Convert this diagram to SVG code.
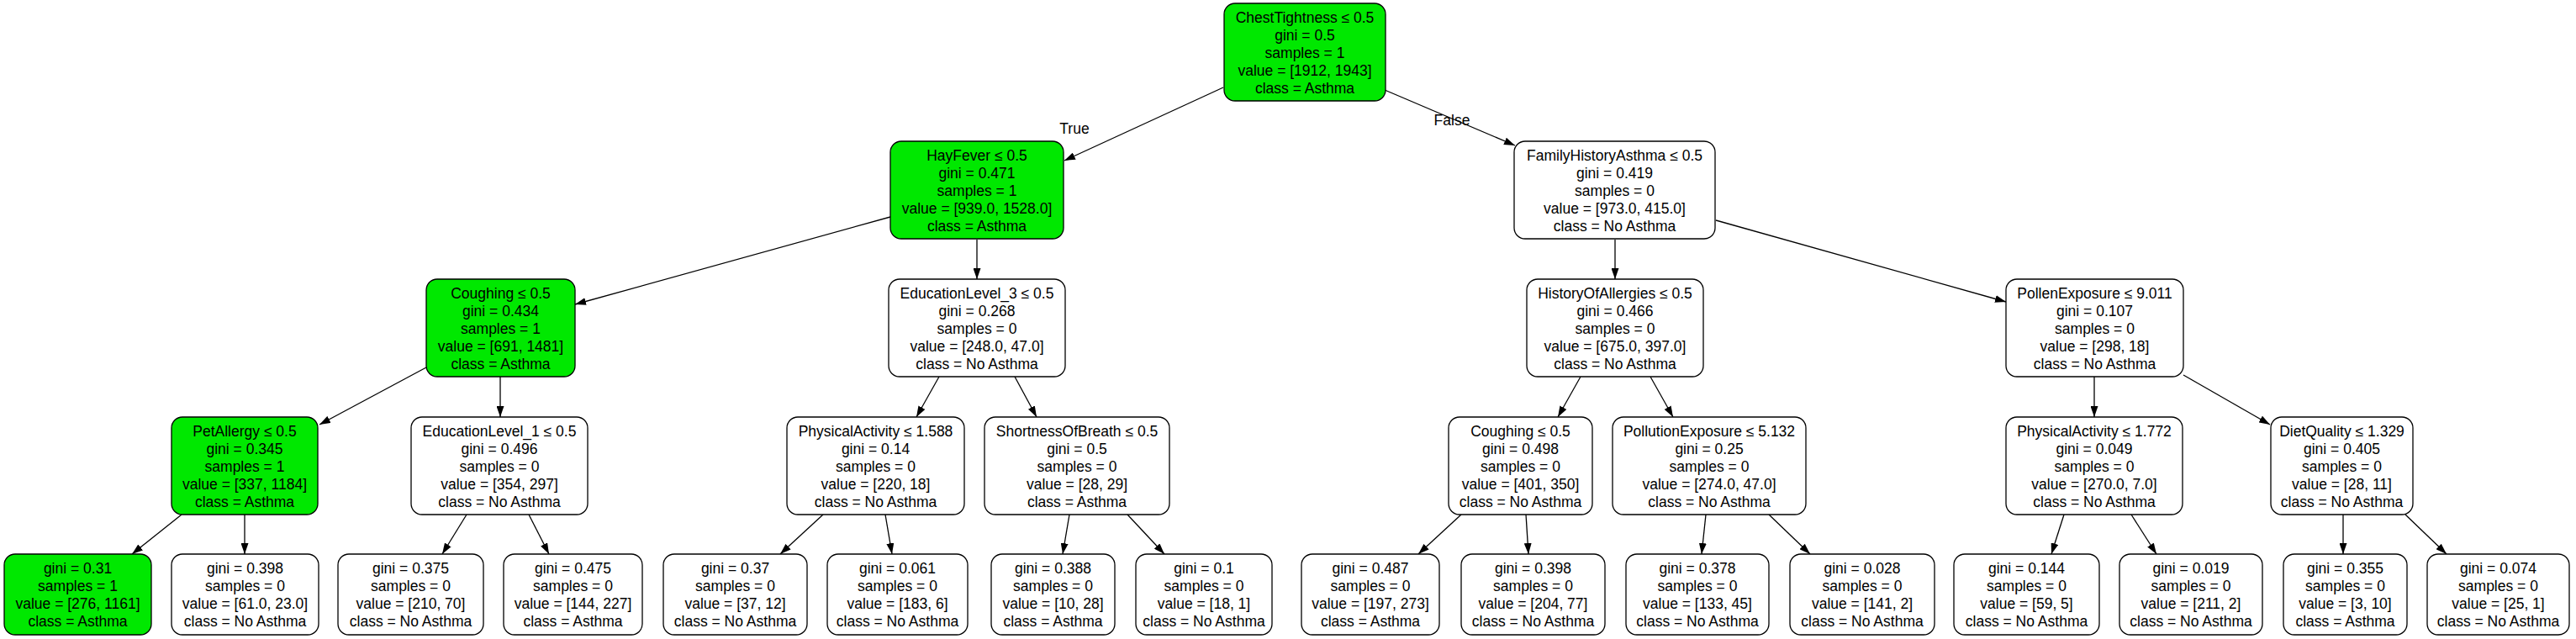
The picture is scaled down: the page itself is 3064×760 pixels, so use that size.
<svg xmlns="http://www.w3.org/2000/svg" width="3064" height="760" viewBox="0 0 3064 760">
<style>
.b{stroke:#000;stroke-width:1.3;}
.g{fill:#00e800;}
.w{fill:#fff;}
text{font-family:"Liberation Sans",Arial,sans-serif;font-size:17.5px;fill:#000;text-anchor:middle;}
.e{stroke:#000;stroke-width:1.3;fill:none;marker-end:url(#ah);}
</style>
<defs>
<marker id="ah" markerUnits="userSpaceOnUse" markerWidth="13" markerHeight="9" refX="13" refY="4.5" orient="auto">
<path d="M0,0 L13,4.5 L0,9 z" fill="#000"/>
</marker>
</defs>
<rect width="3064" height="760" fill="#fff"/>
<g id="connectors">
<line class="e" x1="1455" y1="104" x2="1266" y2="191"/>
<line class="e" x1="1647" y1="107" x2="1802" y2="173"/>
<line class="e" x1="1059" y1="258" x2="684" y2="362"/>
<line class="e" x1="1162" y1="285" x2="1162" y2="332"/>
<line class="e" x1="1921" y1="285" x2="1921" y2="332"/>
<line class="e" x1="2041" y1="262" x2="2386" y2="359"/>
<line class="e" x1="507" y1="437" x2="380" y2="505"/>
<line class="e" x1="595" y1="448" x2="595" y2="496"/>
<line class="e" x1="1117" y1="448" x2="1090" y2="496"/>
<line class="e" x1="1207" y1="448" x2="1233" y2="496"/>
<line class="e" x1="1880" y1="448" x2="1853" y2="496"/>
<line class="e" x1="1963" y1="448" x2="1990" y2="496"/>
<line class="e" x1="2491" y1="448" x2="2491" y2="496"/>
<line class="e" x1="2597" y1="446" x2="2700" y2="505"/>
<line class="e" x1="216" y1="612" x2="157" y2="659"/>
<line class="e" x1="291" y1="612" x2="291" y2="659"/>
<line class="e" x1="555" y1="612" x2="526" y2="659"/>
<line class="e" x1="629" y1="612" x2="653" y2="659"/>
<line class="e" x1="979" y1="612" x2="928" y2="659"/>
<line class="e" x1="1053" y1="612" x2="1061" y2="659"/>
<line class="e" x1="1272" y1="612" x2="1264" y2="659"/>
<line class="e" x1="1341" y1="612" x2="1385" y2="659"/>
<line class="e" x1="1738" y1="612" x2="1687" y2="659"/>
<line class="e" x1="1815" y1="612" x2="1818" y2="659"/>
<line class="e" x1="2029" y1="612" x2="2024" y2="659"/>
<line class="e" x1="2104" y1="612" x2="2153" y2="659"/>
<line class="e" x1="2455" y1="612" x2="2440" y2="659"/>
<line class="e" x1="2535" y1="612" x2="2565" y2="659"/>
<line class="e" x1="2787" y1="612" x2="2787" y2="659"/>
<line class="e" x1="2861" y1="612" x2="2910" y2="659"/>
<text x="1278" y="159">True</text>
<text x="1727" y="149">False</text>
</g>
<g id="n0"><rect class="b g" x="1456" y="4" width="192" height="116" rx="13"/>
<text x="1552" y="27">ChestTightness ≤ 0.5<tspan x="1552" dy="21">gini = 0.5</tspan><tspan x="1552" dy="21">samples = 1</tspan><tspan x="1552" dy="21">value = [1912, 1943]</tspan><tspan x="1552" dy="21">class = Asthma</tspan></text></g>
<g id="n1"><rect class="b g" x="1059" y="168" width="206" height="116" rx="13"/>
<text x="1162" y="191">HayFever ≤ 0.5<tspan x="1162" dy="21">gini = 0.471</tspan><tspan x="1162" dy="21">samples = 1</tspan><tspan x="1162" dy="21">value = [939.0, 1528.0]</tspan><tspan x="1162" dy="21">class = Asthma</tspan></text></g>
<g id="n2"><rect class="b w" x="1801" y="168" width="239" height="116" rx="13"/>
<text x="1920.5" y="191">FamilyHistoryAsthma ≤ 0.5<tspan x="1920.5" dy="21">gini = 0.419</tspan><tspan x="1920.5" dy="21">samples = 0</tspan><tspan x="1920.5" dy="21">value = [973.0, 415.0]</tspan><tspan x="1920.5" dy="21">class = No Asthma</tspan></text></g>
<g id="n3"><rect class="b g" x="507" y="332" width="177" height="116" rx="13"/>
<text x="595.5" y="355">Coughing ≤ 0.5<tspan x="595.5" dy="21">gini = 0.434</tspan><tspan x="595.5" dy="21">samples = 1</tspan><tspan x="595.5" dy="21">value = [691, 1481]</tspan><tspan x="595.5" dy="21">class = Asthma</tspan></text></g>
<g id="n4"><rect class="b w" x="1057" y="332" width="210" height="116" rx="13"/>
<text x="1162" y="355">EducationLevel_3 ≤ 0.5<tspan x="1162" dy="21">gini = 0.268</tspan><tspan x="1162" dy="21">samples = 0</tspan><tspan x="1162" dy="21">value = [248.0, 47.0]</tspan><tspan x="1162" dy="21">class = No Asthma</tspan></text></g>
<g id="n5"><rect class="b w" x="1816" y="332" width="210" height="116" rx="13"/>
<text x="1921" y="355">HistoryOfAllergies ≤ 0.5<tspan x="1921" dy="21">gini = 0.466</tspan><tspan x="1921" dy="21">samples = 0</tspan><tspan x="1921" dy="21">value = [675.0, 397.0]</tspan><tspan x="1921" dy="21">class = No Asthma</tspan></text></g>
<g id="n6"><rect class="b w" x="2386" y="332" width="211" height="116" rx="13"/>
<text x="2491.5" y="355">PollenExposure ≤ 9.011<tspan x="2491.5" dy="21">gini = 0.107</tspan><tspan x="2491.5" dy="21">samples = 0</tspan><tspan x="2491.5" dy="21">value = [298, 18]</tspan><tspan x="2491.5" dy="21">class = No Asthma</tspan></text></g>
<g id="n7"><rect class="b g" x="204" y="496" width="174" height="116" rx="13"/>
<text x="291" y="519">PetAllergy ≤ 0.5<tspan x="291" dy="21">gini = 0.345</tspan><tspan x="291" dy="21">samples = 1</tspan><tspan x="291" dy="21">value = [337, 1184]</tspan><tspan x="291" dy="21">class = Asthma</tspan></text></g>
<g id="n8"><rect class="b w" x="489" y="496" width="210" height="116" rx="13"/>
<text x="594" y="519">EducationLevel_1 ≤ 0.5<tspan x="594" dy="21">gini = 0.496</tspan><tspan x="594" dy="21">samples = 0</tspan><tspan x="594" dy="21">value = [354, 297]</tspan><tspan x="594" dy="21">class = No Asthma</tspan></text></g>
<g id="n9"><rect class="b w" x="936" y="496" width="211" height="116" rx="13"/>
<text x="1041.5" y="519">PhysicalActivity ≤ 1.588<tspan x="1041.5" dy="21">gini = 0.14</tspan><tspan x="1041.5" dy="21">samples = 0</tspan><tspan x="1041.5" dy="21">value = [220, 18]</tspan><tspan x="1041.5" dy="21">class = No Asthma</tspan></text></g>
<g id="n10"><rect class="b w" x="1171" y="496" width="220" height="116" rx="13"/>
<text x="1281" y="519">ShortnessOfBreath ≤ 0.5<tspan x="1281" dy="21">gini = 0.5</tspan><tspan x="1281" dy="21">samples = 0</tspan><tspan x="1281" dy="21">value = [28, 29]</tspan><tspan x="1281" dy="21">class = Asthma</tspan></text></g>
<g id="n11"><rect class="b w" x="1723" y="496" width="171" height="116" rx="13"/>
<text x="1808.5" y="519">Coughing ≤ 0.5<tspan x="1808.5" dy="21">gini = 0.498</tspan><tspan x="1808.5" dy="21">samples = 0</tspan><tspan x="1808.5" dy="21">value = [401, 350]</tspan><tspan x="1808.5" dy="21">class = No Asthma</tspan></text></g>
<g id="n12"><rect class="b w" x="1918" y="496" width="230" height="116" rx="13"/>
<text x="2033" y="519">PollutionExposure ≤ 5.132<tspan x="2033" dy="21">gini = 0.25</tspan><tspan x="2033" dy="21">samples = 0</tspan><tspan x="2033" dy="21">value = [274.0, 47.0]</tspan><tspan x="2033" dy="21">class = No Asthma</tspan></text></g>
<g id="n13"><rect class="b w" x="2386" y="496" width="210" height="116" rx="13"/>
<text x="2491" y="519">PhysicalActivity ≤ 1.772<tspan x="2491" dy="21">gini = 0.049</tspan><tspan x="2491" dy="21">samples = 0</tspan><tspan x="2491" dy="21">value = [270.0, 7.0]</tspan><tspan x="2491" dy="21">class = No Asthma</tspan></text></g>
<g id="n14"><rect class="b w" x="2701" y="496" width="169" height="116" rx="13"/>
<text x="2785.5" y="519">DietQuality ≤ 1.329<tspan x="2785.5" dy="21">gini = 0.405</tspan><tspan x="2785.5" dy="21">samples = 0</tspan><tspan x="2785.5" dy="21">value = [28, 11]</tspan><tspan x="2785.5" dy="21">class = No Asthma</tspan></text></g>
<g id="L1"><rect class="b g" x="5" y="659" width="175" height="96" rx="13"/>
<text x="92.5" y="682">gini = 0.31<tspan x="92.5" dy="21">samples = 1</tspan><tspan x="92.5" dy="21">value = [276, 1161]</tspan><tspan x="92.5" dy="21">class = Asthma</tspan></text></g>
<g id="L2"><rect class="b w" x="204" y="659" width="175" height="96" rx="13"/>
<text x="291.5" y="682">gini = 0.398<tspan x="291.5" dy="21">samples = 0</tspan><tspan x="291.5" dy="21">value = [61.0, 23.0]</tspan><tspan x="291.5" dy="21">class = No Asthma</tspan></text></g>
<g id="L3"><rect class="b w" x="402" y="659" width="173" height="96" rx="13"/>
<text x="488.5" y="682">gini = 0.375<tspan x="488.5" dy="21">samples = 0</tspan><tspan x="488.5" dy="21">value = [210, 70]</tspan><tspan x="488.5" dy="21">class = No Asthma</tspan></text></g>
<g id="L4"><rect class="b w" x="599" y="659" width="165" height="96" rx="13"/>
<text x="681.5" y="682">gini = 0.475<tspan x="681.5" dy="21">samples = 0</tspan><tspan x="681.5" dy="21">value = [144, 227]</tspan><tspan x="681.5" dy="21">class = Asthma</tspan></text></g>
<g id="L5"><rect class="b w" x="789" y="659" width="171" height="96" rx="13"/>
<text x="874.5" y="682">gini = 0.37<tspan x="874.5" dy="21">samples = 0</tspan><tspan x="874.5" dy="21">value = [37, 12]</tspan><tspan x="874.5" dy="21">class = No Asthma</tspan></text></g>
<g id="L6"><rect class="b w" x="984" y="659" width="167" height="96" rx="13"/>
<text x="1067.5" y="682">gini = 0.061<tspan x="1067.5" dy="21">samples = 0</tspan><tspan x="1067.5" dy="21">value = [183, 6]</tspan><tspan x="1067.5" dy="21">class = No Asthma</tspan></text></g>
<g id="L7"><rect class="b w" x="1179" y="659" width="147" height="96" rx="13"/>
<text x="1252.5" y="682">gini = 0.388<tspan x="1252.5" dy="21">samples = 0</tspan><tspan x="1252.5" dy="21">value = [10, 28]</tspan><tspan x="1252.5" dy="21">class = Asthma</tspan></text></g>
<g id="L8"><rect class="b w" x="1351" y="659" width="162" height="96" rx="13"/>
<text x="1432" y="682">gini = 0.1<tspan x="1432" dy="21">samples = 0</tspan><tspan x="1432" dy="21">value = [18, 1]</tspan><tspan x="1432" dy="21">class = No Asthma</tspan></text></g>
<g id="L9"><rect class="b w" x="1548" y="659" width="164" height="96" rx="13"/>
<text x="1630" y="682">gini = 0.487<tspan x="1630" dy="21">samples = 0</tspan><tspan x="1630" dy="21">value = [197, 273]</tspan><tspan x="1630" dy="21">class = Asthma</tspan></text></g>
<g id="L10"><rect class="b w" x="1738" y="659" width="171" height="96" rx="13"/>
<text x="1823.5" y="682">gini = 0.398<tspan x="1823.5" dy="21">samples = 0</tspan><tspan x="1823.5" dy="21">value = [204, 77]</tspan><tspan x="1823.5" dy="21">class = No Asthma</tspan></text></g>
<g id="L11"><rect class="b w" x="1934" y="659" width="170" height="96" rx="13"/>
<text x="2019" y="682">gini = 0.378<tspan x="2019" dy="21">samples = 0</tspan><tspan x="2019" dy="21">value = [133, 45]</tspan><tspan x="2019" dy="21">class = No Asthma</tspan></text></g>
<g id="L12"><rect class="b w" x="2129" y="659" width="172" height="96" rx="13"/>
<text x="2215" y="682">gini = 0.028<tspan x="2215" dy="21">samples = 0</tspan><tspan x="2215" dy="21">value = [141, 2]</tspan><tspan x="2215" dy="21">class = No Asthma</tspan></text></g>
<g id="L13"><rect class="b w" x="2324" y="659" width="173" height="96" rx="13"/>
<text x="2410.5" y="682">gini = 0.144<tspan x="2410.5" dy="21">samples = 0</tspan><tspan x="2410.5" dy="21">value = [59, 5]</tspan><tspan x="2410.5" dy="21">class = No Asthma</tspan></text></g>
<g id="L14"><rect class="b w" x="2521" y="659" width="170" height="96" rx="13"/>
<text x="2606" y="682">gini = 0.019<tspan x="2606" dy="21">samples = 0</tspan><tspan x="2606" dy="21">value = [211, 2]</tspan><tspan x="2606" dy="21">class = No Asthma</tspan></text></g>
<g id="L15"><rect class="b w" x="2716" y="659" width="147" height="96" rx="13"/>
<text x="2789.5" y="682">gini = 0.355<tspan x="2789.5" dy="21">samples = 0</tspan><tspan x="2789.5" dy="21">value = [3, 10]</tspan><tspan x="2789.5" dy="21">class = Asthma</tspan></text></g>
<g id="L16"><rect class="b w" x="2887" y="659" width="169" height="96" rx="13"/>
<text x="2971.5" y="682">gini = 0.074<tspan x="2971.5" dy="21">samples = 0</tspan><tspan x="2971.5" dy="21">value = [25, 1]</tspan><tspan x="2971.5" dy="21">class = No Asthma</tspan></text></g>
</svg>
